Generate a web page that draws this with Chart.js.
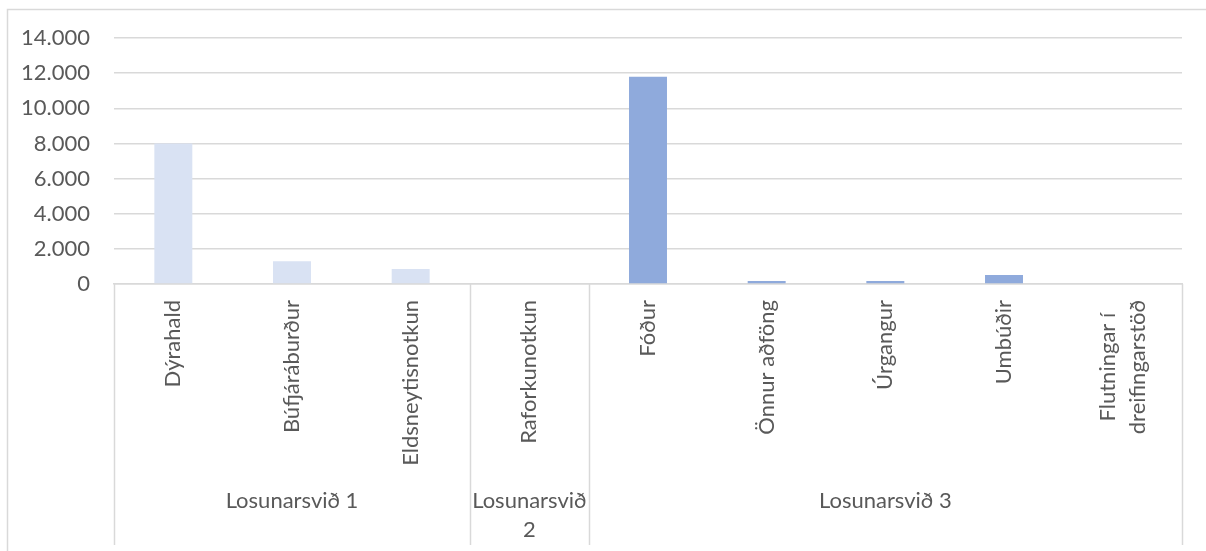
<!DOCTYPE html>
<html>
<head>
<meta charset="utf-8">
<script src="https://cdn.jsdelivr.net/npm/chart.js@4.4.1/dist/chart.umd.min.js"></script>
<style>
  html, body { margin: 0; padding: 0; background: #ffffff; }
</style>
</head>
<body>
<canvas id="myChart" width="1206" height="551"></canvas>
<script>
// Emissions per source, grouped by scope
const categories = ['Dýrahald', 'Búfjáráburður', 'Eldsneytisnotkun', 'Raforkunotkun', 'Fóður',
    'Önnur aðföng', 'Úrgangur', 'Umbúðir', ['Flutningar í', 'dreifingarstöð']];
const values = [8000, 1300, 850, 0, 11800, 170, 170, 510, 0];
const groupNames = [['Losunarsvið 1'], ['Losunarsvið', '2'], ['Losunarsvið 3']];
const groupSizes = [3, 1, 5];
const yTicks = [0, 2000, 4000, 6000, 8000, 10000, 12000, 14000];

const groupColors = ['#D9E2F3', '#B4C7E7', '#8FAADC'];
const textColor = '#595959';
const lineColor = '#D9D9D9';
const fontFamily = 'Lato, "Open Sans", sans-serif';
const fontSize = 22;

// colour each bar by the group it belongs to
const barColors = [];
groupSizes.forEach(function (n, g) {
    for (let i = 0; i < n; i++) barColors.push(groupColors[g]);
});

function formatThousands(v) {
    return String(v).replace(/\B(?=(\d{3})+(?!\d))/g, '.');
}

// draws the outer frame of the chart
const frame = {
    id: 'frame',
    beforeDraw(chart) {
        const ctx = chart.ctx;
        ctx.save();
        ctx.strokeStyle = lineColor;
        ctx.lineWidth = 1.5;
        ctx.strokeRect(7.5, 9.5, chart.width + 20, chart.height + 20);
        ctx.restore();
    }
};

// two-level category axis: rotated item labels, group names and dividers
const categoryAxis = {
    id: 'categoryAxis',
    afterDraw(chart) {
        const ctx = chart.ctx;
        const area = chart.chartArea;
        const x = chart.scales.x;
        const base = area.bottom;
        const half = (x.getPixelForValue(1) - x.getPixelForValue(0)) / 2;
        const lineHeight = 30;

        ctx.save();
        ctx.strokeStyle = lineColor;
        ctx.lineWidth = 1.5;
        let idx = 0;
        const edges = [0];
        groupSizes.forEach(function (n) { idx += n; edges.push(idx); });
        edges.forEach(function (e) {
            const px = Math.round(x.getPixelForValue(e) - half) + 0.5;
            ctx.beginPath();
            ctx.moveTo(px, base);
            ctx.lineTo(px, chart.height - 6);
            ctx.stroke();
        });

        ctx.fillStyle = textColor;
        ctx.font = fontSize + 'px ' + fontFamily;
        categories.forEach(function (c, i) {
            const lines = [].concat(c);
            const widest = Math.max.apply(null, lines.map(function (l) { return ctx.measureText(l).width; }));
            ctx.save();
            ctx.translate(x.getPixelForValue(i), base + 16);
            ctx.rotate(-Math.PI / 2);
            ctx.textAlign = 'center';
            ctx.textBaseline = 'middle';
            lines.forEach(function (l, j) {
                ctx.fillText(l, -widest / 2, (j - (lines.length - 1) / 2) * lineHeight);
            });
            ctx.restore();
        });

        ctx.textAlign = 'center';
        ctx.textBaseline = 'middle';
        let start = 0;
        groupNames.forEach(function (name, g) {
            const left = x.getPixelForValue(start) - half;
            const right = x.getPixelForValue(start + groupSizes[g] - 1) + half;
            name.forEach(function (l, j) {
                ctx.fillText(l, (left + right) / 2, 501 + j * 29);
            });
            start += groupSizes[g];
        });
        ctx.restore();
    }
};

const myChart = new Chart(document.getElementById('myChart'), {
    type: 'bar',
    data: {
        labels: categories,
        datasets: [{
            data: values,
            backgroundColor: barColors,
            barPercentage: 0.32,
            categoryPercentage: 1
        }]
    },
    options: {
        responsive: false,
        animation: false,
        devicePixelRatio: 1,
        layout: { padding: { top: 38, right: 24, bottom: 0, left: 0 } },
        plugins: {
            legend: { display: false },
            tooltip: { enabled: false }
        },
        scales: {
            x: {
                ticks: { display: false },
                grid: { display: false },
                border: { color: lineColor, width: 1.5 },
                afterFit: function (scale) { scale.height = 267; }
            },
            y: {
                min: 0,
                max: yTicks[yTicks.length - 1],
                afterBuildTicks: function (scale) {
                    scale.ticks = yTicks.map(function (v) { return { value: v }; });
                },
                ticks: {
                    padding: 24,
                    color: textColor,
                    font: { family: fontFamily, size: fontSize },
                    callback: function (v) { return formatThousands(v); }
                },
                grid: { color: lineColor, lineWidth: 1.5, drawTicks: false },
                border: { display: false },
                afterFit: function (scale) { scale.width = 114; }
            }
        }
    },
    plugins: [frame, categoryAxis]
});
</script>
</body>
</html>
